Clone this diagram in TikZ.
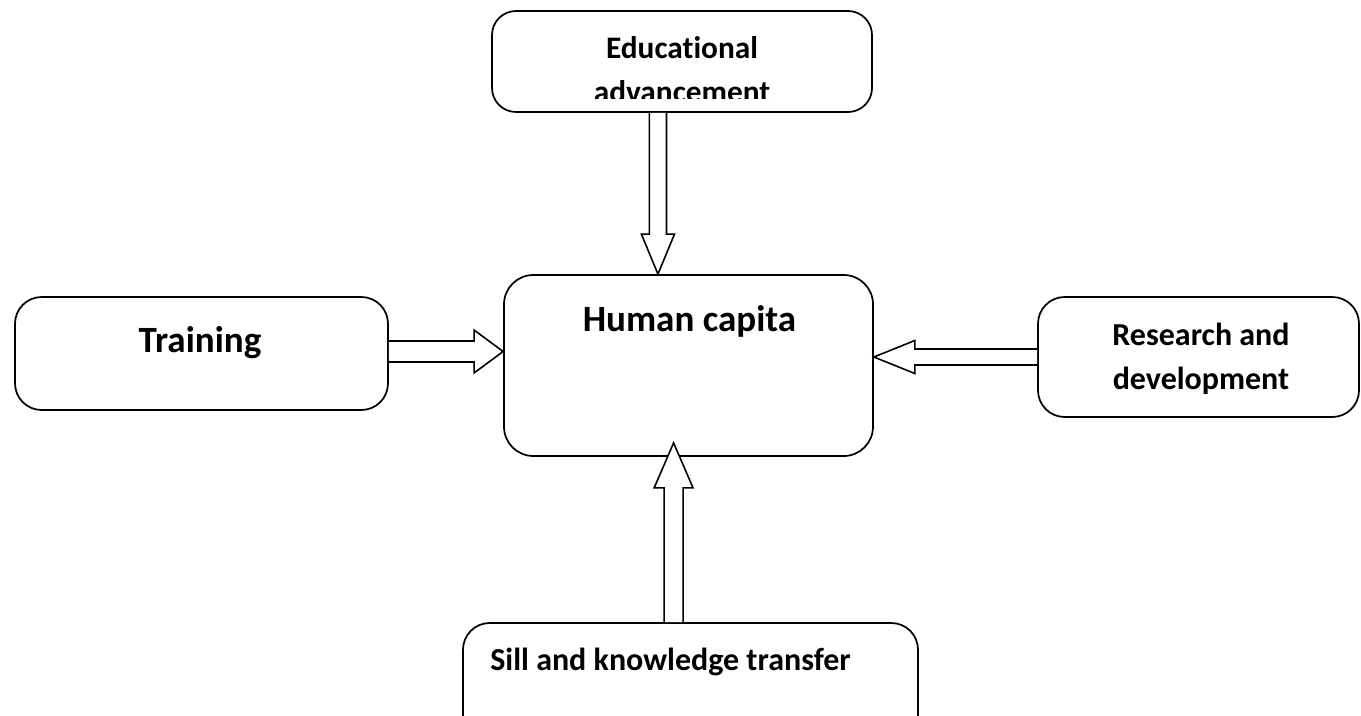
\documentclass[tikz,border=0pt]{standalone}
\usepackage{fontspec}
\setmainfont[Ligatures=NoCommon]{Carlito}
\usetikzlibrary{calc}
\tikzset{
  box/.style={draw=black, line width=1.3pt, rounded corners=#1, fill=white, inner sep=0pt},
  box/.default=20,
  lbl/.style={font=\bfseries, inner sep=0pt, anchor=base},
  barrow/.style={draw=black, line width=1.2pt, fill=white, line join=miter},
}
% #1 start, #2 tip, #3 shaft half-width, #4 head half-width, #5 head length
\newcommand\blockarrow[5]{%
  \coordinate (ba-s) at (#1);
  \coordinate (ba-t) at (#2);
  \coordinate (ba-n) at ($(ba-t)!#5!(ba-s)$);
  \draw[barrow] ($(ba-s)!#3!90:(ba-t)$) -- ($(ba-n)!#3!90:(ba-t)$) -- ($(ba-n)!#4!90:(ba-t)$)
    -- (ba-t) -- ($(ba-n)!#4!-90:(ba-t)$) -- ($(ba-n)!#3!-90:(ba-t)$) -- ($(ba-s)!#3!-90:(ba-t)$);
}
\begin{document}
\begin{tikzpicture}[x=0.75pt, y=-0.75pt]
\useasboundingbox (0,0) rectangle (1361,715);
% boxes
\node[box=18, minimum width=380*0.75pt, minimum height=101*0.75pt] (edu) at (682,61.5) {};
\node[box=22, minimum width=369*0.75pt, minimum height=181*0.75pt] (hc) at (688.5,365.5) {};
\node[box=20, minimum width=373*0.75pt, minimum height=113*0.75pt] (train) at (201.5,353.5) {};
\node[box=20, minimum width=321*0.75pt, minimum height=120*0.75pt] (rd) at (1198.5,357) {};
\node[box=20, minimum width=455*0.75pt, minimum height=120*0.75pt] (skt) at (690.5,683) {};
% texts
\begin{scope}
  \clip (edu.north west) rectangle ($(edu.south east)+(0,-14)$);
  \node[lbl, font=\bfseries\fontsize{23.5}{28}\selectfont] (edu1) at (682,58) {Educational};
  \node[lbl, font=\bfseries\fontsize{23.5}{28}\selectfont] (edu2) at (682,102.5) {advancement};
\end{scope}
\node[lbl, font=\bfseries\fontsize{27.8}{32}\selectfont] (hct) at (689.5,331) {Human capita};
\node[lbl, font=\bfseries\fontsize{27.8}{32}\selectfont] (trt) at (200,352) {Training};
\node[lbl, font=\bfseries\fontsize{24}{28}\selectfont] (rd1) at (1201,345) {Research and};
\node[lbl, font=\bfseries\fontsize{24}{28}\selectfont] (rd2) at (1201,389) {development};
\node[lbl, anchor=base west, font=\bfseries\fontsize{24}{28}\selectfont] (sktt) at (490,670) {Sill and knowledge transfer};
% arrows
\coordinate (a1s) at ($(edu.south west)!0.437!(edu.south east)$);
\coordinate (a1t) at (a1s |- hc.north);
\blockarrow{a1s}{a1t}{6.4pt}{12.4pt}{30pt}
\coordinate (a2s) at ($(train.east)+(0,-2)$);
\coordinate (a2t) at (a2s -| hc.west);
\blockarrow{a2s}{a2t}{7.9pt}{16.1pt}{21.8pt}
\coordinate (a3s) at (rd.west);
\coordinate (a3t) at (a3s -| hc.east);
\blockarrow{a3s}{a3t}{6pt}{12.4pt}{30.8pt}
\coordinate (a4s) at ($(skt.north west)!0.463!(skt.north east)$);
\coordinate (a4t) at ($(a4s |- hc.south)+(0,-14)$);
\blockarrow{a4s}{a4t}{7.1pt}{14.6pt}{33.8pt}
\end{tikzpicture}
\end{document}
